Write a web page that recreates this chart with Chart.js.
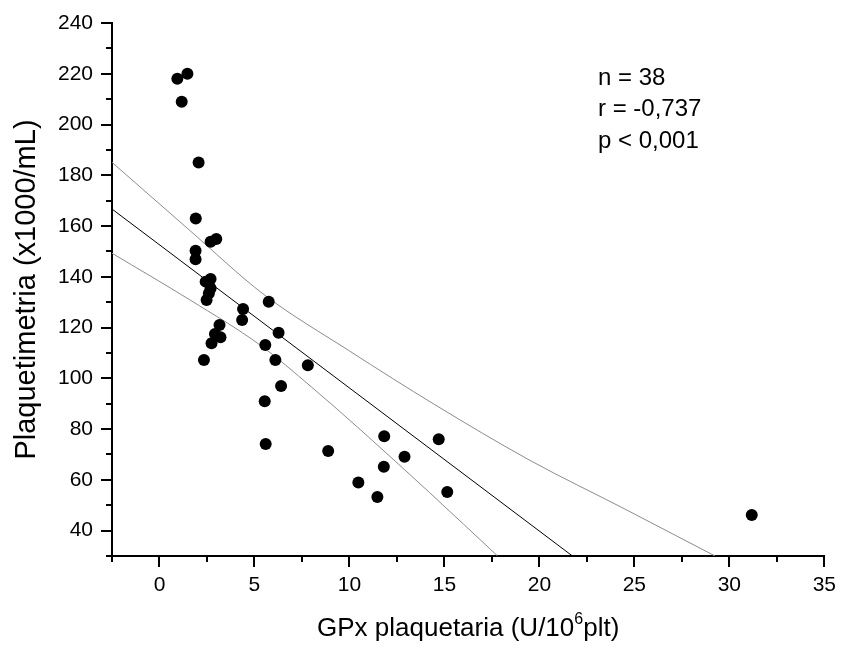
<!DOCTYPE html>
<html>
<head>
<meta charset="utf-8">
<script src="https://cdn.jsdelivr.net/npm/chart.js@4.4.1/dist/chart.umd.min.js"></script>
<style>
html,body{margin:0;padding:0;background:#fff;}
#wrap{width:842px;height:649px;}
</style>
</head>
<body>
<div id="wrap"><canvas id="c" width="842" height="649"></canvas></div>
<script>
// ---- data ----
const gpx  = [0.94, 1.47, 1.17, 2.06, 1.91, 2.69, 2.99, 1.90, 1.90, 2.69,
              2.43, 2.69, 2.60, 2.48, 5.75, 4.40, 4.35, 6.27, 3.16, 2.92,
              3.21, 2.74, 5.57, 2.34, 6.10, 7.81, 6.40, 5.54, 5.59, 8.88,
              11.83, 12.90, 11.81, 10.47, 11.47, 14.70, 15.15, 31.18];
const plaq = [218, 220, 209, 185, 163, 153.8, 154.9, 150.3, 146.9, 139.1,
              138.1, 135.5, 133.5, 130.9, 130.2, 127.3, 123, 118, 121, 117.5,
              116.2, 113.8, 113.1, 107.2, 107.2, 105.2, 97, 91, 74.1, 71.4,
              77.2, 69.1, 65.2, 59, 53.2, 76, 55.2, 46.2];

const fitX = [-2.5, 21.74];
const fitY = [166.7, 30];

const upperX = [-2.5, 1.5, 5.5, 10, 14.5, 19.5, 24.5, 29.25];
const upperY = [185.1, 158.9, 133, 110.8, 89.6, 67.7, 48.5, 30];

const lowerX = [-2.5, 1.6, 5.3, 8, 10.6, 14.2, 17.8];
const lowerY = [149.3, 130.9, 113.1, 96.6, 79.6, 55.1, 30];

const xTicks = [0, 5, 10, 15, 20, 25, 30, 35];
const xMinorTicks = [-2.5, 2.5, 7.5, 12.5, 17.5, 22.5, 27.5, 32.5];
const yTicks = [40, 60, 80, 100, 120, 140, 160, 180, 200, 220, 240];
const yMinorTicks = [30, 50, 70, 90, 110, 130, 150, 170, 190, 210, 230];

const xTitleParts = ["GPx plaquetaria (U/10", "6", "plt)"];
const yTitle = "Plaquetimetria (x1000/mL)";
const statsLines = ["n = 38", "r = -0,737", "p < 0,001"];

// ---- helpers ----
const pts = (xs, ys) => xs.map((v, i) => ({x: v, y: ys[i]}));
const FONT = "'Liberation Sans', Arial, Helvetica, sans-serif";

const extras = {
  id: 'extras',
  afterDraw(chart) {
    const {ctx, chartArea, scales: {x, y}} = chart;
    ctx.save();
    // minor ticks
    ctx.strokeStyle = '#000';
    ctx.lineWidth = 2;
    ctx.beginPath();
    xMinorTicks.forEach(v => {
      const px = Math.round(x.getPixelForValue(v));
      ctx.moveTo(px, chartArea.bottom);
      ctx.lineTo(px, chartArea.bottom + 6);
    });
    yMinorTicks.forEach(v => {
      const py = Math.round(y.getPixelForValue(v));
      ctx.moveTo(chartArea.left, py);
      ctx.lineTo(chartArea.left - 6, py);
    });
    ctx.stroke();

    // x title with superscript
    ctx.fillStyle = '#000';
    ctx.textBaseline = 'alphabetic';
    ctx.textAlign = 'left';
    const big = `26px ${FONT}`, small = `16px ${FONT}`;
    ctx.font = big;
    const w0 = ctx.measureText(xTitleParts[0]).width;
    const w2 = ctx.measureText(xTitleParts[2]).width;
    ctx.font = small;
    const w1 = ctx.measureText(xTitleParts[1]).width;
    const total = w0 + w1 + w2;
    const cx = (chartArea.left + chartArea.right) / 2;
    const base = 636;
    let sx = cx - total / 2;
    ctx.font = big;
    ctx.fillText(xTitleParts[0], sx, base);
    ctx.font = small;
    ctx.fillText(xTitleParts[1], sx + w0, base - 12);
    ctx.font = big;
    ctx.fillText(xTitleParts[2], sx + w0 + w1, base);

    // stats annotation
    ctx.font = `24px ${FONT}`;
    const lineY = [84.5, 116, 147.5];
    statsLines.forEach((t, i) => ctx.fillText(t, 598, lineY[i]));
    ctx.restore();
  }
};

new Chart(document.getElementById('c'), {
  type: 'scatter',
  data: {
    datasets: [
      { data: pts(gpx, plaq), pointRadius: 6, pointHoverRadius: 6,
        backgroundColor: '#000', borderColor: '#000', borderWidth: 0, order: 0 },
      { data: pts(fitX, fitY), showLine: true, pointRadius: 0,
        borderColor: '#000', borderWidth: 1, order: 1 },
      { data: pts(upperX, upperY), showLine: true, pointRadius: 0,
        borderColor: '#8c8c8c', borderWidth: 1, cubicInterpolationMode: 'monotone', order: 2 },
      { data: pts(lowerX, lowerY), showLine: true, pointRadius: 0,
        borderColor: '#8c8c8c', borderWidth: 1, cubicInterpolationMode: 'monotone', order: 2 }
    ]
  },
  options: {
    responsive: false,
    animation: false,
    devicePixelRatio: 1,
    events: [],
    layout: { padding: { left: 0, top: 23, right: 17, bottom: 0 } },
    plugins: { legend: { display: false }, tooltip: { enabled: false } },
    scales: {
      x: {
        type: 'linear', min: -2.5, max: 35,
        afterBuildTicks: s => { s.ticks = xTicks.map(v => ({value: v})); },
        afterFit: s => { s.height = 93; },
        border: { display: true, color: '#000', width: 2 },
        grid: { display: true, drawOnChartArea: false, drawTicks: true,
                tickLength: 11, color: '#000', lineWidth: 2 },
        ticks: { color: '#000', padding: 6, maxRotation: 0,
                 font: { family: FONT, size: 21 } },
        title: { display: false }
      },
      y: {
        type: 'linear', min: 30, max: 240,
        afterBuildTicks: s => { s.ticks = yTicks.map(v => ({value: v})); },
        afterFit: s => { s.width = 112; },
        border: { display: true, color: '#000', width: 2 },
        grid: { display: true, drawOnChartArea: false, drawTicks: true,
                tickLength: 11, color: '#000', lineWidth: 2 },
        ticks: { color: '#000', padding: 8,
                 font: { family: FONT, size: 21 } },
        title: { display: true, text: yTitle, color: '#000',
                 font: { family: FONT, size: 29, lineHeight: 1.2 },
                 padding: { top: 10, bottom: 0 } }
      }
    }
  },
  plugins: [extras]
});
</script>
</body>
</html>
